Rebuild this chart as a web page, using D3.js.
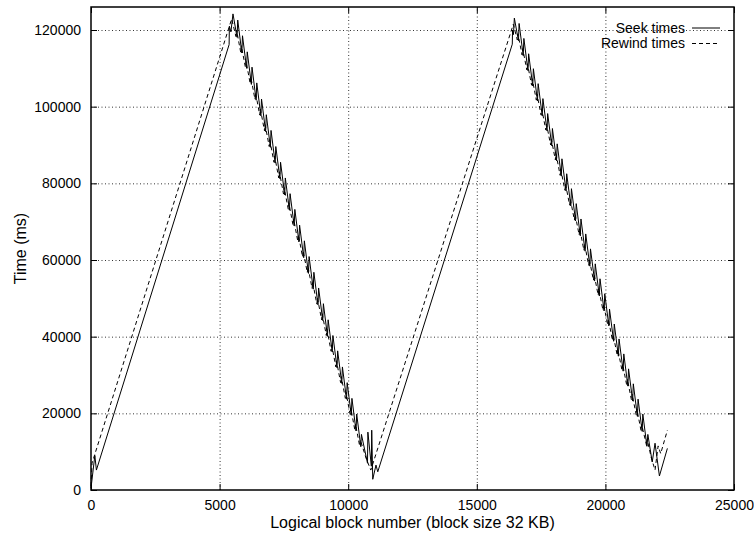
<!DOCTYPE html>
<html>
<head>
<meta charset="utf-8">
<script src="https://cdn.jsdelivr.net/npm/d3@7"></script>
<style>
  body { margin: 0; background: #fff; }
  svg { display: block; font-family: "Liberation Sans", Arial, Helvetica, sans-serif; }
  .grid line { stroke: #000; stroke-width: 0.8; stroke-dasharray: 1,2.5; }
  .grid path { display: none; }
  .axis path { display: none; }
  .axis line { stroke: #000; stroke-width: 1; }
  .axis text { font-size: 14px; fill: #000; }
</style>
</head>
<body>
<svg id="chart" width="754" height="533"></svg>
<script>
// Series names and axis ticks
const seriesNames = ["Seek times", "Rewind times"];
const xTicks = [0, 5000, 10000, 15000, 20000, 25000];
const yTicks = [0, 20000, 40000, 60000, 80000, 100000, 120000];

// [logical block, time in ms]
const seekTimes = [
  [0, 500], [150, 9000], [210, 5200], [5370, 116200], [5380, 121000], [5440, 119500], [5520, 124200],
  [5680, 118100], [5705, 122600], [5865, 114000], [5890, 118500], [6050, 110000], [6075, 114300],
  [6235, 105800], [6260, 110300], [6420, 101700], [6445, 106200], [6605, 97600], [6630, 102000],
  [6790, 93500], [6815, 97900], [6975, 89400], [7000, 93800], [7160, 85300], [7185, 89600],
  [7345, 81200], [7370, 85500], [7530, 77000], [7555, 81400], [7715, 73000], [7740, 77300],
  [7900, 68900], [7925, 73200], [8085, 64700], [8110, 69100], [8270, 60600], [8295, 65000],
  [8455, 56500], [8480, 60900], [8640, 52400], [8665, 56800], [8825, 48300], [8850, 52700],
  [9010, 44200], [9035, 48600], [9195, 40100], [9220, 44400], [9380, 36000], [9405, 40300],
  [9565, 31900], [9590, 36300], [9750, 27800], [9775, 32100], [9935, 23700], [9960, 28000],
  [10120, 19500], [10145, 23900], [10305, 15400], [10330, 19800], [10490, 11300], [10515, 14500],
  [10750, 7000], [10765, 15100], [10900, 6200], [10915, 15600], [10955, 2800], [11080, 6500], [11150, 4750],
  [16380, 116300], [16390, 120000], [16425, 118800], [16460, 123100],
  [16620, 117200], [16645, 121700], [16805, 113300], [16830, 117800], [16990, 109400], [17015, 113800],
  [17175, 105400], [17200, 109900], [17360, 101500], [17385, 106000], [17545, 97600], [17570, 102100],
  [17730, 93700], [17755, 98200], [17915, 89800], [17940, 94300], [18100, 85900], [18125, 90300],
  [18285, 81900], [18310, 86400], [18470, 78000], [18495, 82500], [18655, 74100], [18680, 78600],
  [18840, 70200], [18865, 74700], [19025, 66300], [19050, 70700], [19210, 62300], [19235, 66800],
  [19395, 58400], [19420, 62900], [19580, 54500], [19605, 59000], [19765, 50600], [19790, 55100],
  [19950, 46700], [19975, 51200], [20135, 42800], [20160, 47200], [20320, 38800], [20345, 43300],
  [20505, 34900], [20530, 39400], [20690, 31000], [20715, 35500], [20875, 27100], [20900, 31600],
  [21060, 23200], [21085, 27700], [21245, 19200], [21270, 23700], [21430, 15300], [21455, 19800],
  [21615, 11400], [21650, 14500], [21820, 7300], [21930, 12200], [22100, 3650], [22410, 10860]
];

const rewindTimes = [
  [0, 1000], [40, 7000], [5470, 122900],
  [5635, 118300], [5660, 120000], [5820, 114200], [5845, 115900], [6005, 110200], [6030, 111800],
  [6190, 106000], [6215, 107700], [6375, 101900], [6400, 103600], [6560, 97800], [6585, 99400],
  [6745, 93700], [6770, 95300], [6930, 89600], [6955, 91200], [7115, 85500], [7140, 87100],
  [7300, 81400], [7325, 83000], [7485, 77200], [7510, 78900], [7670, 73200], [7695, 74800],
  [7855, 69100], [7880, 70700], [8040, 64900], [8065, 66600], [8225, 60800], [8250, 62400],
  [8410, 56700], [8435, 58300], [8595, 52600], [8620, 54200], [8780, 48500], [8805, 50100],
  [8965, 44400], [8990, 46000], [9150, 40300], [9175, 41900], [9335, 36200], [9360, 37800],
  [9520, 32100], [9545, 33700], [9705, 28000], [9730, 29600], [9890, 23900], [9915, 25500],
  [10075, 19700], [10100, 21400], [10260, 15600], [10285, 17200], [10445, 11500], [10470, 13100],
  [10700, 8200], [10880, 5200],
  [16420, 121500],
  [16575, 117400], [16600, 119000], [16760, 113500], [16785, 115100], [16945, 109600], [16970, 111200],
  [17130, 105600], [17155, 107300], [17315, 101700], [17340, 103300], [17500, 97800], [17525, 99400],
  [17685, 93900], [17710, 95500], [17870, 90000], [17895, 91600], [18055, 86100], [18080, 87700],
  [18240, 82100], [18265, 83700], [18425, 78200], [18450, 79800], [18610, 74300], [18635, 75900],
  [18795, 70400], [18820, 72000], [18980, 66500], [19005, 68100], [19165, 62500], [19190, 64200],
  [19350, 58600], [19375, 60200], [19535, 54700], [19560, 56300], [19720, 50800], [19745, 52400],
  [19905, 46900], [19930, 48500], [20090, 43000], [20115, 44600], [20275, 39000], [20300, 40600],
  [20460, 35100], [20485, 36700], [20645, 31200], [20670, 32800], [20830, 27300], [20855, 28900],
  [21015, 23400], [21040, 25000], [21200, 19500], [21225, 21100], [21385, 15500], [21410, 17100],
  [21600, 11600], [21625, 13200], [21780, 8500], [21930, 5200], [22050, 11500], [22150, 9500], [22410, 15600]
];

const svg = d3.select('#chart');
const plotLeft = 91, plotRight = 734, plotTop = 7, plotBottom = 490;
const innerW = plotRight - plotLeft, innerH = plotBottom - plotTop;

const x = d3.scaleLinear().domain([0, 25000]).range([plotLeft, plotRight]);
const y = d3.scaleLinear().domain([0, 126000]).range([plotBottom, plotTop]);

// Dotted grid
svg.append('g').attr('class', 'grid')
    .attr('transform', `translate(0,${plotBottom})`)
    .call(d3.axisBottom(x).tickValues(xTicks.slice(1, -1)).tickSize(-innerH).tickFormat(''));
svg.append('g').attr('class', 'grid')
    .attr('transform', `translate(${plotLeft},0)`)
    .call(d3.axisLeft(y).tickValues(yTicks.slice(1)).tickSize(-innerW).tickFormat(''));

// Axes with inward ticks, mirrored on top and right
svg.append('g').attr('class', 'axis')
    .attr('transform', `translate(0,${plotBottom})`)
    .call(d3.axisBottom(x).tickValues(xTicks).tickSize(-6).tickPadding(10).tickFormat(d3.format('d')));
svg.append('g').attr('class', 'axis')
    .attr('transform', `translate(${plotLeft},0)`)
    .call(d3.axisLeft(y).tickValues(yTicks).tickSize(-6).tickPadding(10).tickFormat(d3.format('d')));
svg.append('g').attr('class', 'axis')
    .attr('transform', `translate(0,${plotTop})`)
    .call(d3.axisTop(x).tickValues(xTicks).tickSize(-6).tickFormat(''));
svg.append('g').attr('class', 'axis')
    .attr('transform', `translate(${plotRight},0)`)
    .call(d3.axisRight(y).tickValues(yTicks).tickSize(-6).tickFormat(''));

// Border
svg.append('rect')
    .attr('x', plotLeft).attr('y', plotTop)
    .attr('width', innerW).attr('height', innerH)
    .attr('fill', 'none').attr('stroke', '#000').attr('stroke-width', 1.5);

// Data lines
const line = d3.line().x(d => x(d[0])).y(d => y(d[1]));

svg.append('path')
    .datum(rewindTimes)
    .attr('d', line)
    .attr('fill', 'none').attr('stroke', '#000').attr('stroke-width', 1)
    .attr('stroke-dasharray', '4,3');

svg.append('path')
    .datum(seekTimes)
    .attr('d', line)
    .attr('fill', 'none').attr('stroke', '#000').attr('stroke-width', 1);

// Legend
const legend = svg.append('g');
seriesNames.forEach((name, i) => {
    const ly = 28 + i * 15.5;
    legend.append('text')
        .attr('x', 685).attr('y', ly + 4.5)
        .attr('text-anchor', 'end')
        .style('font-size', '14px')
        .text(name);
    legend.append('line')
        .attr('x1', 692).attr('x2', 720)
        .attr('y1', ly).attr('y2', ly)
        .attr('stroke', '#000').attr('stroke-width', 1)
        .attr('stroke-dasharray', i === 1 ? '4,3' : null);
});

// Axis titles
svg.append('text')
    .attr('x', (plotLeft + plotRight) / 2).attr('y', 528)
    .attr('text-anchor', 'middle')
    .style('font-size', '16px')
    .text('Logical block number (block size 32 KB)');

svg.append('text')
    .attr('transform', `translate(26,${(plotTop + plotBottom) / 2}) rotate(-90)`)
    .attr('text-anchor', 'middle')
    .style('font-size', '16px')
    .text('Time (ms)');
</script>
</body>
</html>
